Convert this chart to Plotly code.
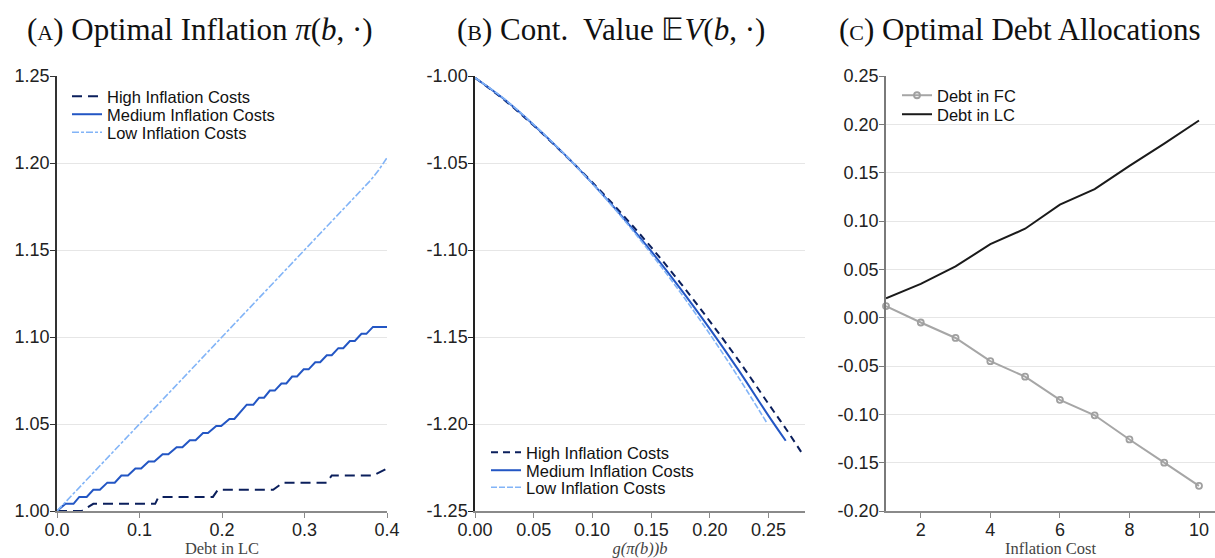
import plotly.graph_objects as go

# ---------------- Panel A: optimal inflation (staircases) ----------------
high_flat_start = [0.000, 0.044, 0.123, 0.195, 0.274, 0.333, 0.400]
high_flat_end   = [0.030, 0.119, 0.189, 0.262, 0.327, 0.383, 0.400]
high_levels     = [1.0000, 1.0041, 1.0081, 1.0122, 1.0163, 1.0204, 1.0244]

med_flat_start = [0.000, 0.010, 0.027, 0.044, 0.061, 0.078, 0.095, 0.111, 0.128, 0.145,
                  0.161, 0.177, 0.193, 0.209, 0.230, 0.245, 0.258, 0.272, 0.285, 0.299,
                  0.313, 0.327, 0.341, 0.355, 0.369, 0.383]
med_flat_end   = [0.000, 0.020, 0.036, 0.052, 0.070, 0.086, 0.102, 0.118, 0.135, 0.152,
                  0.168, 0.183, 0.199, 0.215, 0.238, 0.251, 0.264, 0.278, 0.291, 0.305,
                  0.319, 0.333, 0.347, 0.361, 0.375, 0.400]
med_levels     = [1.0000, 1.0041, 1.0081, 1.0122, 1.0163, 1.0204, 1.0244, 1.0285, 1.0326, 1.0366,
                  1.0407, 1.0448, 1.0488, 1.0529, 1.0611, 1.0651, 1.0692, 1.0733, 1.0773, 1.0814,
                  1.0855, 1.0895, 1.0936, 1.0977, 1.1018, 1.1058]

low_x = [0.000, 0.380, 0.390, 0.400]
low_y = [1.000, 1.190, 1.196, 1.203]

a_yticks = [1.00, 1.05, 1.10, 1.15, 1.20, 1.25]
a_xticks = [0.0, 0.1, 0.2, 0.3, 0.4]

# ---------------- Panel B: continuation value ----------------
b_high_x = [0.000, 0.025, 0.050, 0.075, 0.100, 0.125, 0.150, 0.175, 0.200, 0.225, 0.250, 0.265, 0.2794]
b_high_y = [-1.001, -1.0138, -1.0285, -1.0444, -1.0612, -1.0792, -1.0984, -1.1190, -1.1410, -1.1640, -1.1885, -1.2030, -1.2178]
b_med_x = [0.000, 0.025, 0.050, 0.075, 0.100, 0.125, 0.150, 0.175, 0.200, 0.225, 0.250, 0.2646]
b_med_y = [-1.001, -1.0134, -1.0281, -1.0442, -1.0617, -1.0805, -1.1007, -1.1223, -1.1453, -1.1696, -1.1953, -1.2096]
b_low_x = [0.000, 0.025, 0.050, 0.075, 0.100, 0.125, 0.150, 0.175, 0.200, 0.225, 0.2485]
b_low_y = [-1.001, -1.0132, -1.0279, -1.0441, -1.0619, -1.0812, -1.1021, -1.1245, -1.1484, -1.1739, -1.1993]

b_yticks = [-1.25, -1.20, -1.15, -1.10, -1.05, -1.00]
b_ytext = ["-1.25", "-1.20", "-1.15", "-1.10", "-1.05", "-1.00"]
b_xticks = [0.00, 0.05, 0.10, 0.15, 0.20, 0.25]

# ---------------- Panel C: optimal debt allocations ----------------
c_cost = [1, 2, 3, 4, 5, 6, 7, 8, 9, 10]
debt_fc = [0.012, -0.005, -0.021, -0.045, -0.061, -0.085, -0.101, -0.126, -0.150, -0.174]
debt_lc = [0.020, 0.035, 0.053, 0.076, 0.092, 0.117, 0.133, 0.157, 0.180, 0.204]

c_yticks = [-0.20, -0.15, -0.10, -0.05, 0.00, 0.05, 0.10, 0.15, 0.20, 0.25]
c_ytext = ["-0.20", "-0.15", "-0.10", "-0.05", "0.00", "0.05", "0.10", "0.15", "0.20", "0.25"]
c_xticks = [2, 4, 6, 8, 10]

NAVY = "#0b1f5c"
BLUE = "#2356c4"
LIGHT = "#82b4f7"


def staircase(starts, ends, levels):
    xs, ys = [], []
    for s, e, l in zip(starts, ends, levels):
        xs += [s, e]
        ys += [l, l]
    return xs, ys


W, H = 1215, 558
fig = go.Figure()

hx, hy = staircase(high_flat_start, high_flat_end, high_levels)
mx, my = staircase(med_flat_start, med_flat_end, med_levels)

fig.add_trace(go.Scatter(x=hx, y=hy, mode="lines", name="High Inflation Costs",
                         line=dict(color=NAVY, width=2, dash="10px,6px"),
                         xaxis="x", yaxis="y", legend="legend"))
fig.add_trace(go.Scatter(x=mx, y=my, mode="lines", name="Medium Inflation Costs",
                         line=dict(color=BLUE, width=2),
                         xaxis="x", yaxis="y", legend="legend2"))
fig.add_trace(go.Scatter(x=low_x, y=low_y, mode="lines", name="Low Inflation Costs",
                         line=dict(color=LIGHT, width=1.6, dash="7px,2px,3px,2px"),
                         xaxis="x", yaxis="y", legend="legend3"))

fig.add_trace(go.Scatter(x=b_high_x, y=b_high_y, mode="lines", name="High Inflation Costs",
                         line=dict(color=NAVY, width=2, dash="7px,5px", shape="spline"),
                         xaxis="x2", yaxis="y2", legend="legend4"))
fig.add_trace(go.Scatter(x=b_med_x, y=b_med_y, mode="lines", name="Medium Inflation Costs",
                         line=dict(color=BLUE, width=2, shape="spline"),
                         xaxis="x2", yaxis="y2", legend="legend5"))
fig.add_trace(go.Scatter(x=b_low_x, y=b_low_y, mode="lines", name="Low Inflation Costs",
                         line=dict(color=LIGHT, width=1.6, dash="6px,2px", shape="spline"),
                         xaxis="x2", yaxis="y2", legend="legend6"))

fig.add_trace(go.Scatter(x=c_cost, y=debt_fc, mode="lines+markers", name="Debt in FC",
                         line=dict(color="#a6a6a6", width=2),
                         marker=dict(symbol="circle-open", size=6, color="#a0a0a0", line=dict(width=1.8)),
                         cliponaxis=False,
                         xaxis="x3", yaxis="y3", legend="legend7"))
fig.add_trace(go.Scatter(x=c_cost, y=debt_lc, mode="lines", name="Debt in LC",
                         line=dict(color="#1a1a1a", width=2),
                         xaxis="x3", yaxis="y3", legend="legend8"))

TICKFONT = dict(family="Liberation Sans, Arial, sans-serif", size=18, color="#222222")
SERIF = "Liberation Serif, Times New Roman, serif"

ytop, ybot = 76, 511
ydom = [(H - ybot) / H, (H - ytop) / H]


def xaxis(dom, rng, ticks, fmt, title, anchor, style="normal"):
    return dict(domain=[dom[0] / W, dom[1] / W], range=rng, tickvals=ticks, tickformat=fmt,
                anchor=anchor, automargin=False, ticklabelstandoff=-3,
                showgrid=False, zeroline=False, showline=True, linecolor="#8a8a8a", linewidth=1.5,
                ticks="outside", ticklen=5, tickcolor="#8a8a8a", tickwidth=1.2,
                tickfont=TICKFONT,
                title=dict(text=title, font=dict(family=SERIF, size=16.5, color="#444444", style=style),
                           standoff=7))


def yaxis(anchor, rng, ticks, text, linecolor):
    d = dict(domain=ydom, range=rng, tickvals=ticks, anchor=anchor, automargin=False,
             ticklabelstandoff=-3,
             showgrid=True, gridcolor="#e6e6e6", gridwidth=1, zeroline=False,
             showline=True, linecolor=linecolor, linewidth=1.5,
             ticks="outside", ticklen=5, tickcolor=linecolor, tickwidth=1.2,
             tickfont=TICKFONT)
    if text is not None:
        d["ticktext"] = text
    else:
        d["tickformat"] = ".2f"
    return d


LEGFONT = dict(family="Liberation Sans, Arial, sans-serif", size=16.5, color="#111111")


def legend(px, row_center):
    # px: left edge of the legend symbol line; row_center: vertical centre of the entry (pixels)
    return dict(x=(px - 6) / W, y=1 - (row_center - 18) / H, xanchor="left", yanchor="top",
                bgcolor="rgba(0,0,0,0)", font=LEGFONT, itemwidth=30, borderwidth=0)


titles = [
    ("(<span style='font-size:22px'>A</span>) Optimal Inflation <i>π</i>(<i>b</i>, ·)", 200),
    ("(<span style='font-size:22px'>B</span>) Cont.  Value 𝔼<i>V</i>(<i>b</i>, ·)", 611),
    ("(<span style='font-size:22px'>C</span>) Optimal Debt Allocations", 1020),
]

fig.update_layout(
    template="none",
    width=W, height=H,
    margin=dict(l=0, r=0, t=0, b=0, autoexpand=False),
    paper_bgcolor="white", plot_bgcolor="white",
    showlegend=True,
    xaxis=xaxis((57, 387), [0, 0.4], a_xticks, ".1f", "Debt in LC", "y"),
    yaxis=yaxis("x", [1.0, 1.25], a_yticks, None, "#333333"),
    xaxis2=xaxis((475, 805), [0, 0.281], b_xticks, ".2f", "g(π(b))b", "y2", style="italic"),
    yaxis2=yaxis("x2", [-1.25, -1.0], b_yticks, b_ytext, "#222222"),
    xaxis3=xaxis((886, 1215), [1, 10.46], c_xticks, "d", "Inflation Cost", "y3"),
    yaxis3=yaxis("x3", [-0.20, 0.25], c_yticks, c_ytext, "#7a7a7a"),
    legend=legend(73, 97),
    legend2=legend(73, 115),
    legend3=legend(73, 133),
    legend4=legend(492, 453),
    legend5=legend(492, 471),
    legend6=legend(492, 488),
    legend7=legend(903, 96),
    legend8=legend(903, 115),
    annotations=[dict(text=t, x=cx / W, y=1 - 30 / H, xref="paper", yref="paper",
                      xanchor="center", yanchor="middle", showarrow=False,
                      font=dict(family=SERIF, size=31, color="#111111")) for t, cx in titles],
)

fig.write_html("out.html", config={"displayModeBar": False},
               post_script="document.body.style.margin='0';document.body.style.overflow='hidden';")
